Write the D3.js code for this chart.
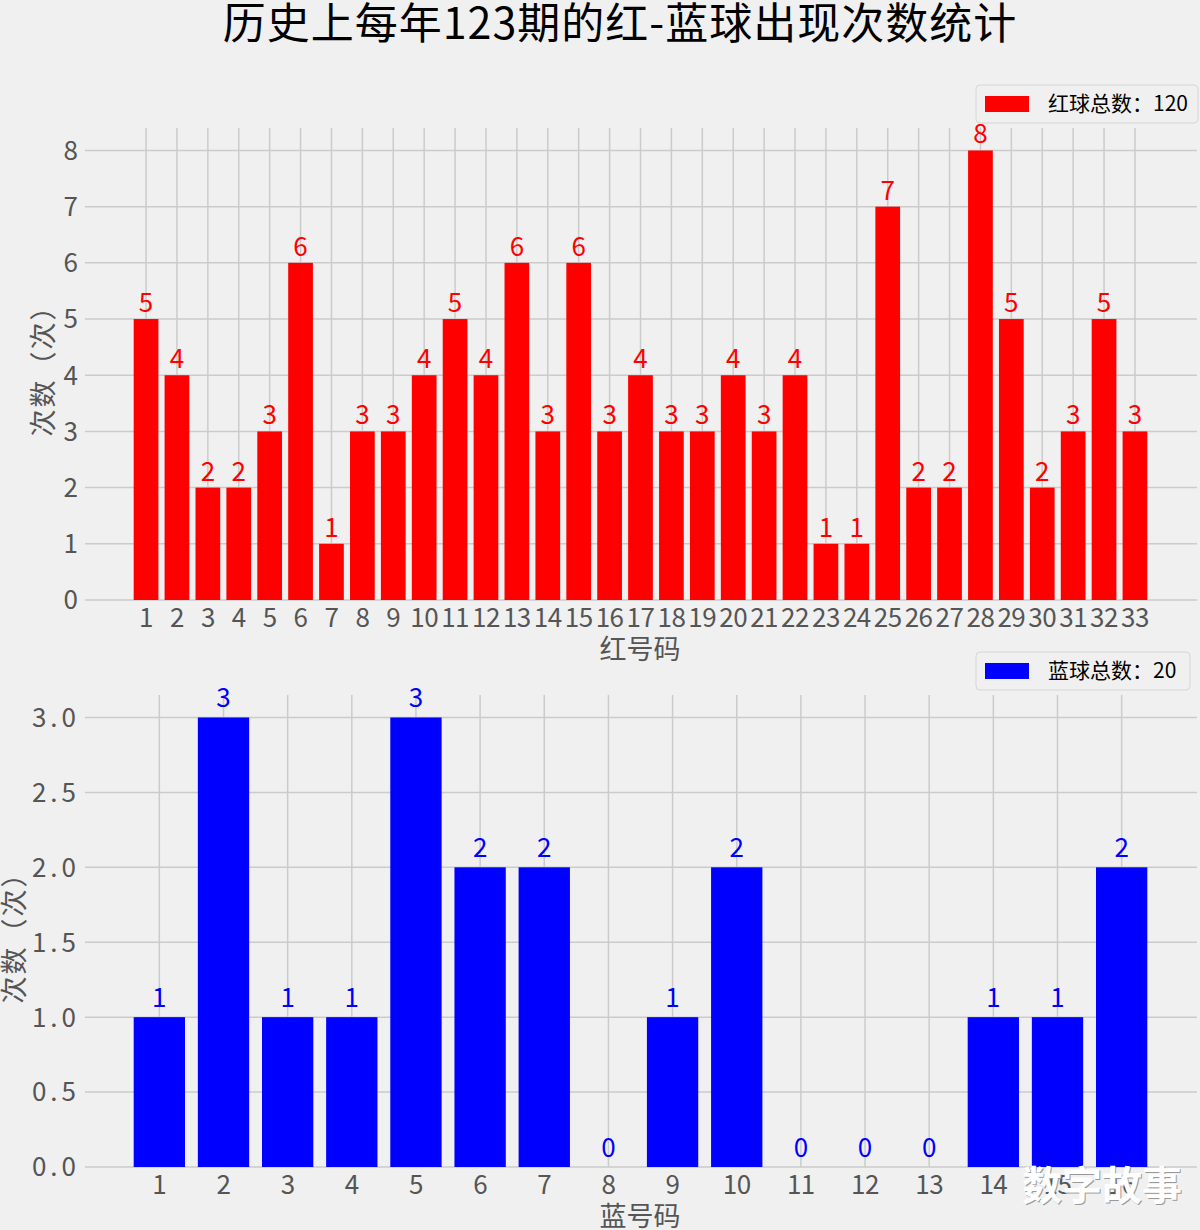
<!DOCTYPE html>
<html><head><meta charset="utf-8">
<script src="https://cdn.jsdelivr.net/npm/d3@7"></script>
<style>
body{margin:0;background:#f0f0f0;}
svg{display:block;}
text{font-family:"Noto Sans CJK SC","DejaVu Sans",sans-serif;}
</style></head>
<body>
<script>
const title = "历史上每年123期的红-蓝球出现次数统计";
const redNumbers = d3.range(1, 34);
const redCounts = [5,4,2,2,3,6,1,3,3,4,5,4,6,3,6,3,4,3,3,4,3,4,1,1,7,2,2,8,5,2,3,5,3];
const blueNumbers = d3.range(1, 17);
const blueCounts = [1,3,1,1,3,2,2,0,1,2,0,0,0,1,1,2];
const redTicksY = [0,1,2,3,4,5,6,7,8];
const blueTicksY = [0,0.5,1,1.5,2,2.5,3];
const redLegend = "红球总数：" + d3.sum(redCounts);
const blueLegend = "蓝球总数：" + d3.sum(blueCounts);

const W = 1200, H = 1230;
const svg = d3.select("body").append("svg").attr("width", W).attr("height", H);
svg.append("rect").attr("width", W).attr("height", H).attr("fill", "#f0f0f0");

svg.append("text").attr("x", 620).attr("y", 39).attr("text-anchor", "middle")
  .attr("font-size", 43).attr("fill", "#000").attr("letter-spacing", 1).text(title);

function panel(cfg){
  const n = cfg.cats.length;
  const span = n - 0.2;
  const x = d3.scaleLinear().domain([0.6 - 0.05*span, n + 0.4 + 0.05*span]).range([83, 1198]);
  const y = d3.scaleLinear().domain([0, cfg.ymax]).range([cfg.bottom, cfg.top]);
  const g = svg.append("g");
  const bw = (x(2) - x(1)) * 0.8;
  g.selectAll(".hg").data(cfg.yticks).join("line")
    .attr("x1", 85).attr("x2", 1197).attr("y1", d=>y(d)).attr("y2", d=>y(d))
    .attr("stroke", "#cbcbcb").attr("stroke-width", 1.5);
  g.selectAll(".vg").data(cfg.cats).join("line")
    .attr("x1", d=>x(d)).attr("x2", d=>x(d)).attr("y1", cfg.top).attr("y2", cfg.bottom)
    .attr("stroke", "#cbcbcb").attr("stroke-width", 1.5);
  g.selectAll(".bar").data(cfg.vals).join("rect")
    .attr("x", (d,i)=>x(cfg.cats[i]) - bw/2).attr("width", bw)
    .attr("y", d=>y(d)).attr("height", d=>y(0)-y(d)).attr("fill", cfg.color);
  g.selectAll(".lbl").data(cfg.vals).join("text")
    .attr("x", (d,i)=>x(cfg.cats[i])).attr("y", d=>y(d) - cfg.lblOff)
    .attr("text-anchor", "middle").attr("font-size", 26).attr("fill", cfg.color).text(d=>d);
  g.selectAll(".yt").data(cfg.yticks).join("text")
    .attr("x", cfg.ytx).attr("y", d=>y(d)).attr("dy", "0.36em").attr("text-anchor", "end")
    .attr("font-size", 26).attr("fill", "#555").attr("letter-spacing", cfg.ls)
    .text(d=>cfg.yfmt(d));
  g.selectAll(".xt").data(cfg.cats).join("text")
    .attr("x", d=>x(d)).attr("y", cfg.bottom + 27).attr("text-anchor", "middle")
    .attr("font-size", 26).attr("fill", "#555").attr("letter-spacing", -0.5).text(d=>d);
  g.append("text").attr("x", 640).attr("y", cfg.bottom + 59).attr("text-anchor", "middle")
    .attr("font-size", 27).attr("fill", "#555").text(cfg.xlabel);
  g.append("text").attr("transform", `translate(${cfg.ylx},${(cfg.top+cfg.bottom)/2}) rotate(-90)`)
    .attr("text-anchor", "middle").attr("font-size", 27).attr("fill", "#555").attr("letter-spacing", 2).text("次数（次）");
  const L = cfg.legend;
  g.append("rect").attr("x", L.x).attr("y", L.y).attr("width", L.w).attr("height", 38).attr("rx", 4)
    .attr("fill", "#f0f0f0").attr("stroke", "#d6d6d6").attr("stroke-width", 1);
  g.append("rect").attr("x", L.x + 9).attr("y", L.y + 11).attr("width", 44).attr("height", 16).attr("fill", cfg.color);
  g.append("text").attr("x", L.x + 72).attr("y", L.y + 26).attr("font-size", 21).attr("fill", "#000").text(L.text);
}

panel({cats: redNumbers, vals: redCounts, color: "#ff0000", ymax: 8.4, top: 128, bottom: 600,
  yticks: redTicksY, yfmt: d=>d, ytx: 78, ls: 0, lblOff: 7, xlabel: "红号码", ylx: 53,
  legend: {x: 976, y: 85, w: 222, text: redLegend}});
panel({cats: blueNumbers, vals: blueCounts, color: "#0000ff", ymax: 3.15, top: 695, bottom: 1167,
  yticks: blueTicksY, yfmt: d=>d.toFixed(1), ytx: 80, ls: 4, lblOff: 10, xlabel: "蓝号码", ylx: 24,
  legend: {x: 976, y: 652, w: 214, text: blueLegend}});

// watermark (shadow + white)
svg.append("text").attr("x", 1103).attr("y", 1201).attr("text-anchor", "middle")
  .attr("font-size", 40).attr("font-weight", "bold").attr("fill", "#999999").text("数字故事");
svg.append("text").attr("x", 1102).attr("y", 1200).attr("text-anchor", "middle")
  .attr("font-size", 40).attr("font-weight", "bold").attr("fill", "#ffffff").text("数字故事");
</script>
</body></html>
